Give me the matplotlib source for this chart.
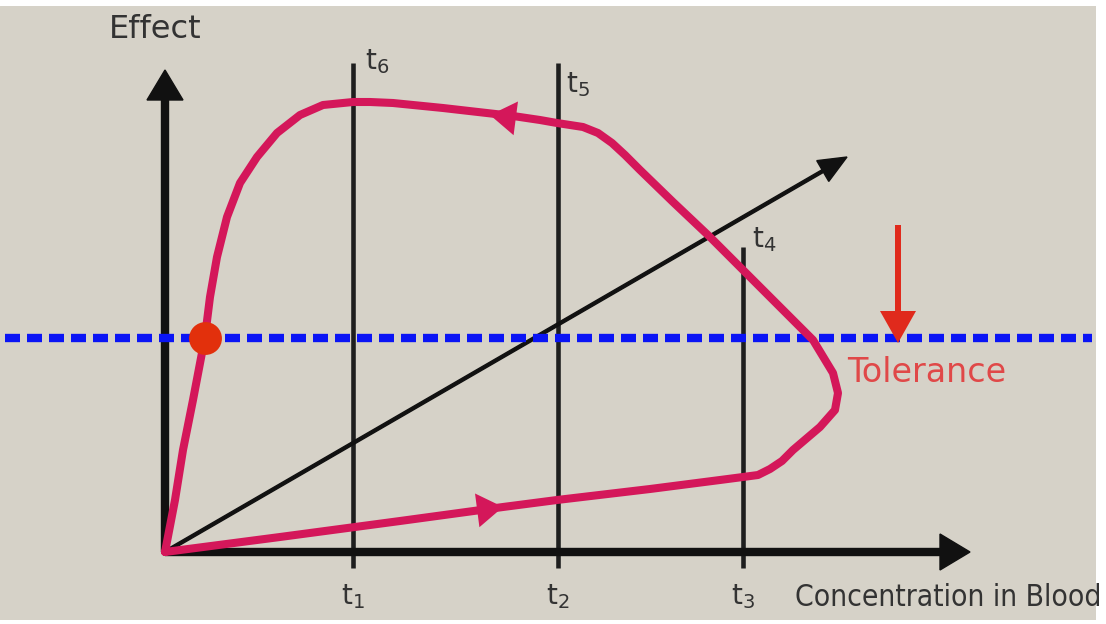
import matplotlib
matplotlib.use("Agg")
import matplotlib.pyplot as plt
import numpy as np

# loop of effect vs. concentration (hysteresis, clockwise)
conc = [0, 115, 235, 338, 392, 485, 555, 578, 593, 605, 617, 628, 655, 670,
        673, 668, 648, 622, 578, 545, 508, 475, 460, 447, 433, 418, 392, 375,
        348, 278, 228, 205, 188, 158, 135, 112, 92, 75, 62, 52, 45, 40, 28, 18,
        10, 0]
effect = [0, 15, 31, 45, 52, 63, 72, 75, 77, 83, 91, 102, 125, 142,
          159, 179, 212, 238, 282, 315, 350, 382, 397, 409, 419, 425, 429, 432,
          436, 444, 449, 450, 450, 447, 437, 419, 395, 369, 335, 295, 255, 215,
          152, 102, 52, 0]

# time markers
t_low = ["$\\mathregular{t_1}$", "$\\mathregular{t_2}$", "$\\mathregular{t_3}$"]
t_high = ["$\\mathregular{t_6}$", "$\\mathregular{t_5}$", "$\\mathregular{t_4}$"]
t_conc = [188, 393, 578]
t_top = [489, 489, 305]

# flow arrows on the loop: (tip x, tip y, dir x, dir y)
flow_x = [338, 325]
flow_y = [45, 437]
flow_dx = [1.0, -1.0]
flow_dy = [0.13, 0.13]

diag_end = (682, 395)
tolerance_level = 214
dot_point = (40, 214)
tol_arrow_x = 733
tol_arrow_top = 327
tol_arrow_tip = 209

bg = "#d6d2c8"
pink = "#d4175a"

fig = plt.figure(figsize=(11.06, 6.24), dpi=100, facecolor="white")
ax = fig.add_axes([0, 4 / 624, 1096 / 1106, 614 / 624])
ax.set_facecolor(bg)
ax.set_xlim(-165, 931)
ax.set_ylim(-68, 546)
ax.set_axis_off()
ax.add_patch(plt.Rectangle((-165, -68), 1096, 614, color=bg, zorder=0))

# vertical time lines
for x, top in zip(t_conc, t_top):
    ax.plot([x, x], [-16, top], color="#1e1e1e", lw=3.3, solid_capstyle="butt", zorder=2)

# diagonal line
ax.arrow(0, 0, diag_end[0], diag_end[1], width=3, head_width=24, head_length=28,
         length_includes_head=True, color="#111111", zorder=3)

# axes arrows
ax.arrow(0, 0, 805, 0, width=7, head_width=36, head_length=30,
         length_includes_head=True, color="#111111", zorder=4)
ax.arrow(0, 0, 0, 482, width=7, head_width=36, head_length=30,
         length_includes_head=True, color="#111111", zorder=4)

# tolerance dashed line
ax.plot([-160, 927], [tolerance_level, tolerance_level], color="#0a14f5", lw=6,
        dashes=(1.8, 0.84), dash_capstyle="butt", zorder=5)

# loop
ax.plot(conc, effect, color=pink, lw=5.8, solid_joinstyle="round",
        solid_capstyle="round", zorder=6)
for x, y, dx, dy in zip(flow_x, flow_y, flow_dx, flow_dy):
    n = np.hypot(dx, dy)
    ax.arrow(x - 26 * dx / n, y - 26 * dy / n, 26 * dx / n, 26 * dy / n, width=0,
             head_width=34, head_length=26, length_includes_head=True,
             color=pink, lw=0, zorder=7)

# red dot
ax.scatter([dot_point[0]], [dot_point[1]], s=560, color="#e2300c", zorder=8, lw=0)

# tolerance arrow
ax.arrow(tol_arrow_x, tol_arrow_top, 0, tol_arrow_tip - tol_arrow_top, width=6,
         head_width=36, head_length=32, length_includes_head=True,
         color="#e02a1c", lw=0, zorder=8)

txt = "#333333"
ax.text(682, 180, "Tolerance", color="#e04848", fontsize=24, ha="left", va="center")
ax.text(-10, 522, "Effect", color=txt, fontsize=23, ha="center", va="center")
ax.text(936, -46, "Concentration in Blood", color=txt, fontsize=21.5, ha="right",
        va="center", fontstretch="condensed")

for x, lab in zip(t_conc, t_low):
    ax.text(x, -45, lab, color=txt, fontsize=20, ha="center", va="center")
ax.text(t_conc[0] + 12, 490, t_high[0], color=txt, fontsize=20, ha="left", va="center")
ax.text(t_conc[1] + 8, 467, t_high[1], color=txt, fontsize=20, ha="left", va="center")
ax.text(t_conc[2] + 9, 312, t_high[2], color=txt, fontsize=20, ha="left", va="center")

fig.savefig("out.png", dpi=100, facecolor="white")
